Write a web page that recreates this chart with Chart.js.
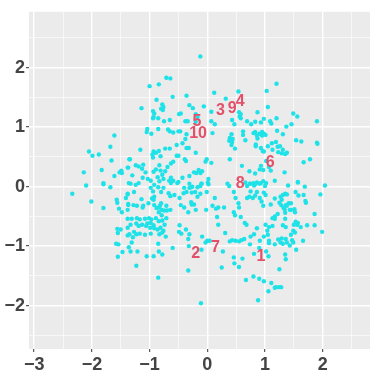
<!DOCTYPE html>
<html><head><meta charset="utf-8">
<script src="https://cdn.jsdelivr.net/npm/chart.js@4/dist/chart.umd.min.js"></script>
<style>html,body{margin:0;padding:0;background:#fff}#wrap{width:374px;height:374px}</style>
</head><body><div id="wrap"><canvas id="c" width="374" height="374"></canvas></div>
<script>
const pointX = [
-1.61,-1.68,-2.05,-1.99,-1.88,-1.66,-1.35,-2.14,-1.83,-1.61,-1.49,-1.52,-1.48,-1.38,-1.80,-1.36,
-0.12,-0.71,-0.64,-1.00,-0.84,-0.60,-0.36,-0.88,-1.14,-0.31,
-0.25,-0.78,-0.76,-0.80,-0.77,-0.94,-0.92,-0.93,-0.94,-0.85,
-0.75,-0.65,-0.49,-0.46,-0.38,-0.34,-0.20,-0.17,-0.20,-1.04,
-1.05,-0.97,-0.85,-0.68,-0.65,-0.59,-0.50,-0.47,-0.36,-1.16,
-0.93,-0.95,-0.94,-0.89,-0.84,-0.81,-0.73,-0.65,-0.53,-0.43,
-0.38,-0.53,-0.50,-0.36,-0.32,-0.39,-0.37,-0.20,-1.34,-1.24,
-1.19,-1.11,-1.13,-1.07,-0.93,-0.89,-0.83,-0.81,-0.78,-0.73,
-0.69,-0.63,-0.59,-1.37,-1.30,-1.12,-1.03,-0.98,-0.86,-0.83,
-0.76,-0.66,-0.63,-0.59,-0.50,-0.43,-0.31,-0.23,-0.19,-0.15,-0.12,
0.12,0.32,0.54,1.03,-0.06,0.07,0.55,0.58,0.56,1.05,
0.87,0.07,0.13,0.43,0.47,0.58,0.69,0.76,0.83,0.93,
0.98,1.09,1.11,0.09,0.42,0.39,0.44,0.38,0.42,0.48,
0.43,0.62,0.62,0.66,0.80,0.83,0.86,0.87,0.84,0.84,
0.90,0.95,0.98,0.95,1.01,0.93,0.96,0.98,1.12,1.05,1.13,
-0.01,-0.03,0.07,0.39,-0.09,0.60,0.73,0.83,0.93,0.91,
0.97,1.02,1.07,1.10,0.66,0.74,0.80,0.83,0.93,0.97,1.02,
1.20,1.20,1.49,1.56,1.90,1.21,1.37,1.46,1.31,1.54,
1.63,1.90,1.91,1.19,1.22,1.26,1.31,1.23,1.29,1.35,
1.38,1.67,1.78,1.34,1.17,1.57,
0.02,0.02,-0.12,-0.26,-0.31,
-2.10,-1.80,-1.68,-2.34,-2.01,-1.80,-1.57,-1.56,-1.41,-1.38,
-1.37,-1.53,-1.48,-1.38,-1.56,-1.50,-1.55,-1.38,-1.58,-1.54,
-1.36,-1.47,-1.55,
-1.33,-1.24,-1.19,-0.98,-0.92,-0.85,-0.76,-0.63,-0.52,-0.40,
-0.31,-0.28,-0.17,-0.10,-1.27,-1.38,-0.94,-0.92,-0.80,-0.67,
-0.64,-0.57,-0.48,-0.41,-0.36,-0.27,-0.17,-0.12,-0.21,-1.14,
-1.37,-1.28,-1.22,-1.11,-1.12,-1.02,-0.96,-0.93,-0.92,-0.88,
-0.84,-0.80,-0.84,-0.79,-0.75,-0.70,-0.64,-0.79,-0.82,-0.46,
-0.40,-0.33,-0.27,-0.23,-0.20,-0.28,-0.71,-1.38,-1.31,-1.22,
-1.17,-1.08,-1.01,-0.97,-0.89,-0.84,-0.78,-0.71,-0.74,-1.33,
-1.23,-1.19,-1.13,-1.06,-1.04,-0.98,-0.93,-0.99,-0.92,-0.86,
-0.81,-0.76,-0.78,-0.72,-1.27,-1.23,-1.29,-1.17,-1.08,-0.98,
-0.83,-1.38,-1.35,-0.48,-0.49,-0.45,-0.37,-0.31,-0.33,-1.31,
-1.33,-1.21,-1.05,-0.93,-0.85,-0.84,-0.78,-0.60,-0.32,-1.23,
-0.33,-0.85,-0.11,
-0.10,0.01,-0.01,0.38,0.35,0.46,0.69,0.74,0.81,0.86,
0.91,1.00,0.75,0.73,0.69,0.79,0.86,0.83,0.91,0.94,
0.98,1.01,0.97,1.10,0.13,0.19,0.09,0.15,0.29,-0.02,
0.49,0.54,0.55,0.46,0.48,0.58,0.65,0.68,0.17,0.19,
1.17,1.13,1.01,1.07,1.13,1.04,0.86,0.81,0.75,0.91,
0.98,1.05,1.07,1.07,1.02,1.06,0.90,0.81,0.31,0.43,
0.39,0.49,0.55,0.59,0.64,0.74,-0.09,-0.03,0.00,0.04,
-0.10,0.27,0.46,0.61,0.47,0.55,0.25,0.67,0.80,0.90,
0.98,1.11,1.06,1.17,0.88,
1.40,1.57,1.69,2.04,1.17,1.27,1.31,1.35,1.38,1.29,
1.25,1.28,1.36,1.41,1.45,1.53,1.58,1.67,1.70,1.71,
1.32,1.34,1.38,1.43,1.45,1.35,1.22,1.51,1.52,1.96,
1.86,1.17,1.35,1.31,1.36,1.50,1.53,1.57,1.56,1.62,
1.73,1.86,1.99,1.49,1.52,1.45,1.29,1.23,1.27,1.31,
1.36,1.38,1.47,1.43,1.49,1.17,1.54,1.66,1.35,1.36,
1.25,1.19,1.24,1.28
];
const pointY = [
0.86,0.67,0.59,0.52,0.54,0.44,0.46,0.24,0.28,0.18,0.27,0.24,0.23,0.32,0.06,0.06,
2.19,1.83,1.82,1.69,1.72,1.51,1.53,1.46,1.32,1.37,
1.32,1.38,1.34,1.31,1.29,1.27,1.23,1.17,1.15,1.15,
1.10,1.12,1.22,1.23,1.10,1.10,1.22,1.17,1.09,0.97,
0.92,0.89,0.97,0.96,0.93,0.91,0.93,0.93,0.88,0.62,
0.59,0.54,0.49,0.57,0.60,0.51,0.64,0.64,0.70,0.73,
0.80,0.52,0.52,0.65,0.65,0.46,0.43,0.57,0.46,0.36,
0.34,0.37,0.30,0.24,0.25,0.29,0.36,0.27,0.20,0.26,
0.33,0.39,0.42,0.32,0.19,0.15,0.13,0.10,0.16,0.09,
0.13,0.10,0.15,0.10,0.08,0.15,0.18,0.24,0.23,0.28,0.23,
1.58,1.48,1.60,1.61,1.35,1.26,1.25,1.22,1.18,1.34,
1.25,1.10,1.05,1.12,1.05,1.15,1.10,1.05,1.09,1.08,
1.14,1.10,1.06,0.90,0.88,0.82,0.80,0.77,0.70,0.64,
0.75,0.93,0.87,0.78,0.90,0.92,0.86,0.81,0.71,0.68,
0.89,0.92,0.89,0.86,0.87,0.65,0.60,0.59,0.73,0.68,0.62,
0.46,0.42,0.40,0.46,0.26,0.35,0.26,0.22,0.35,0.29,
0.28,0.43,0.33,0.27,0.07,0.05,0.06,0.04,0.06,0.09,0.06,
1.73,1.15,1.23,1.18,1.10,0.94,1.01,1.05,0.88,0.78,
0.76,0.74,0.72,0.75,0.67,0.68,0.62,0.58,0.56,0.55,
0.57,0.41,0.46,0.24,0.10,0.08,
0.13,0.04,0.01,0.00,-0.02,
0.02,0.04,-0.01,-0.12,-0.25,-0.36,-0.22,-0.27,-0.19,-0.12,
-0.31,-0.37,-0.43,-0.39,-0.71,-0.72,-0.78,-0.82,-0.96,-0.97,
-1.02,-1.10,-1.18,
0.05,0.03,0.06,-0.02,0.03,-0.01,-0.02,0.06,0.06,-0.02,
0.05,-0.01,-0.01,0.05,-0.09,-0.13,-0.08,-0.17,-0.09,-0.11,
-0.16,-0.14,-0.19,-0.11,-0.09,-0.10,-0.17,-0.12,-0.09,-0.21,
-0.29,-0.31,-0.32,-0.32,-0.35,-0.28,-0.20,-0.22,-0.31,-0.36,
-0.35,-0.28,-0.43,-0.39,-0.40,-0.40,-0.39,-0.48,-0.32,-0.31,
-0.35,-0.43,-0.30,-0.30,-0.39,-0.26,-0.32,-0.54,-0.54,-0.53,
-0.55,-0.54,-0.53,-0.55,-0.53,-0.58,-0.57,-0.53,-0.64,-0.64,
-0.62,-0.66,-0.64,-0.66,-0.62,-0.61,-0.65,-0.69,-0.70,-0.72,
-0.69,-0.74,-0.77,-0.84,-0.76,-0.80,-0.85,-0.79,-0.81,-0.79,
-0.80,-0.69,-0.80,-0.65,-0.76,-0.79,-0.72,-0.80,-0.88,-0.94,
-1.09,-1.09,-1.17,-1.17,-0.96,-1.09,-1.14,-1.03,-1.00,-1.33,
-1.41,-1.53,-1.96,
0.05,0.07,-0.09,0.01,0.05,-0.09,0.01,0.05,0.02,0.07,
0.05,0.01,-0.08,-0.17,-0.19,-0.19,-0.09,-0.15,-0.19,-0.25,
-0.10,-0.14,-0.32,-0.30,-0.19,-0.35,-0.32,-0.37,-0.35,-0.39,
-0.19,-0.28,-0.35,-0.43,-0.48,-0.51,-0.61,-0.64,-0.51,-0.64,
-0.50,-0.53,-0.64,-0.68,-0.66,-0.74,-0.70,-0.80,-0.84,-0.91,
-0.84,-0.81,-0.91,-0.95,-1.09,-1.17,-1.03,-1.13,-0.78,-0.90,
-0.92,-0.91,-0.92,-0.90,-0.88,-0.97,-0.84,-0.94,-0.91,-0.91,
-1.06,-1.09,-1.19,-1.21,-1.29,-1.35,-1.36,-1.57,-1.51,-1.55,
-1.59,-1.62,-1.76,-1.70,-1.91,
0.02,0.07,0.00,0.02,-0.20,-0.17,-0.14,-0.12,-0.13,-0.22,
-0.27,-0.31,-0.31,-0.28,-0.28,-0.09,-0.15,-0.14,-0.24,-0.27,
-0.35,-0.38,-0.32,-0.39,-0.39,-0.44,-0.46,-0.38,-0.43,-0.13,
-0.46,-0.54,-0.54,-0.65,-0.68,-0.64,-0.59,-0.61,-0.64,-0.68,
-0.65,-0.65,-0.76,-0.74,-0.77,-0.81,-0.87,-0.89,-0.94,-0.96,
-0.88,-0.94,-0.90,-0.99,-0.94,-0.97,-1.06,-0.91,-1.14,-1.22,
-1.39,-1.69,-1.69,-1.69
];
const labelText = ['1','2','3','4','5','6','7','8','9','10'];
const labelX = [0.93,-0.20,0.23,0.57,-0.18,1.09,0.14,0.57,0.43,-0.16];
const labelY = [-1.17,-1.13,1.28,1.43,1.09,0.40,-1.03,0.05,1.31,0.89];
const xTickValues = [-3,-2.5,-2,-1.5,-1,-0.5,0,0.5,1,1.5,2,2.5];
const yTickValues = [-2.5,-2,-1.5,-1,-0.5,0,0.5,1,1.5,2,2.5];
const xRange = [-3.09, 2.82];
const yRange = [-2.73, 2.94];

const points = pointX.map((x, i) => ({x: x, y: pointY[i]}));
function isMajor(v){ return Math.abs(v - Math.round(v)) < 1e-9; }
function fmt(v){ return v < 0 ? '\u2212' + Math.abs(v) : String(v); }
const axisFont = {family: "'Liberation Sans', Arial, sans-serif", size: 18, weight: 'bold'};

function gridOpts(){
  return {
    color: '#FFFFFF',
    lineWidth: c => (c.tick && isMajor(c.tick.value)) ? 1.4 : 0.6,
    drawTicks: true, tickLength: 3, tickWidth: 1,
    tickColor: c => (c.tick && isMajor(c.tick.value)) ? '#333333' : 'rgba(0,0,0,0)'
  };
}

const panelBg = {
  id: 'panelBg',
  beforeDraw(chart){
    const {ctx, chartArea: a} = chart;
    ctx.save();
    ctx.fillStyle = '#FFFFFF';
    ctx.fillRect(0, 0, chart.width, chart.height);
    ctx.fillStyle = '#EBEBEB';
    ctx.fillRect(a.left, a.top, a.right - a.left, a.bottom - a.top);
    ctx.restore();
  }
};
const textLabels = {
  id: 'textLabels',
  afterDatasetsDraw(chart){
    const {ctx, scales: {x, y}} = chart;
    ctx.save();
    ctx.font = "bold 16px 'Liberation Sans', Arial, sans-serif";
    ctx.fillStyle = '#E2506A';
    ctx.textAlign = 'center';
    ctx.textBaseline = 'middle';
    labelText.forEach((t, i) => {
      ctx.fillText(t, x.getPixelForValue(labelX[i]), y.getPixelForValue(labelY[i]));
    });
    ctx.restore();
  }
};

new Chart(document.getElementById('c'), {
  type: 'scatter',
  data: { datasets: [{ data: points, backgroundColor: '#1FE2E8', borderWidth: 0, pointRadius: 2.2, pointHoverRadius: 2.2 }] },
  options: {
    responsive: false, animation: false, devicePixelRatio: 1,
    layout: { padding: { top: 4, right: 4, left: 0, bottom: 0 } },
    plugins: { legend: { display: false }, tooltip: { enabled: false } },
    scales: {
      x: {
        type: 'linear', position: 'bottom', min: xRange[0], max: xRange[1],
        afterBuildTicks: s => { s.ticks = xTickValues.map(v => ({value: v})); },
        afterFit: s => { s.height = 25; },
        border: { display: false },
        grid: gridOpts(),
        ticks: { autoSkip: false, maxRotation: 0, minRotation: 0, padding: 2, color: '#444444', font: axisFont,
                 callback: v => isMajor(v) ? fmt(v) : '' }
      },
      y: {
        type: 'linear', position: 'left', min: yRange[0], max: yRange[1],
        afterBuildTicks: s => { s.ticks = yTickValues.map(v => ({value: v})); },
        afterFit: s => { s.width = 29; },
        border: { display: false },
        grid: gridOpts(),
        ticks: { autoSkip: false, padding: 1, color: '#444444', font: axisFont,
                 callback: v => isMajor(v) ? fmt(v) : '' }
      }
    }
  },
  plugins: [panelBg, textLabels]
});
</script>
</body></html>
